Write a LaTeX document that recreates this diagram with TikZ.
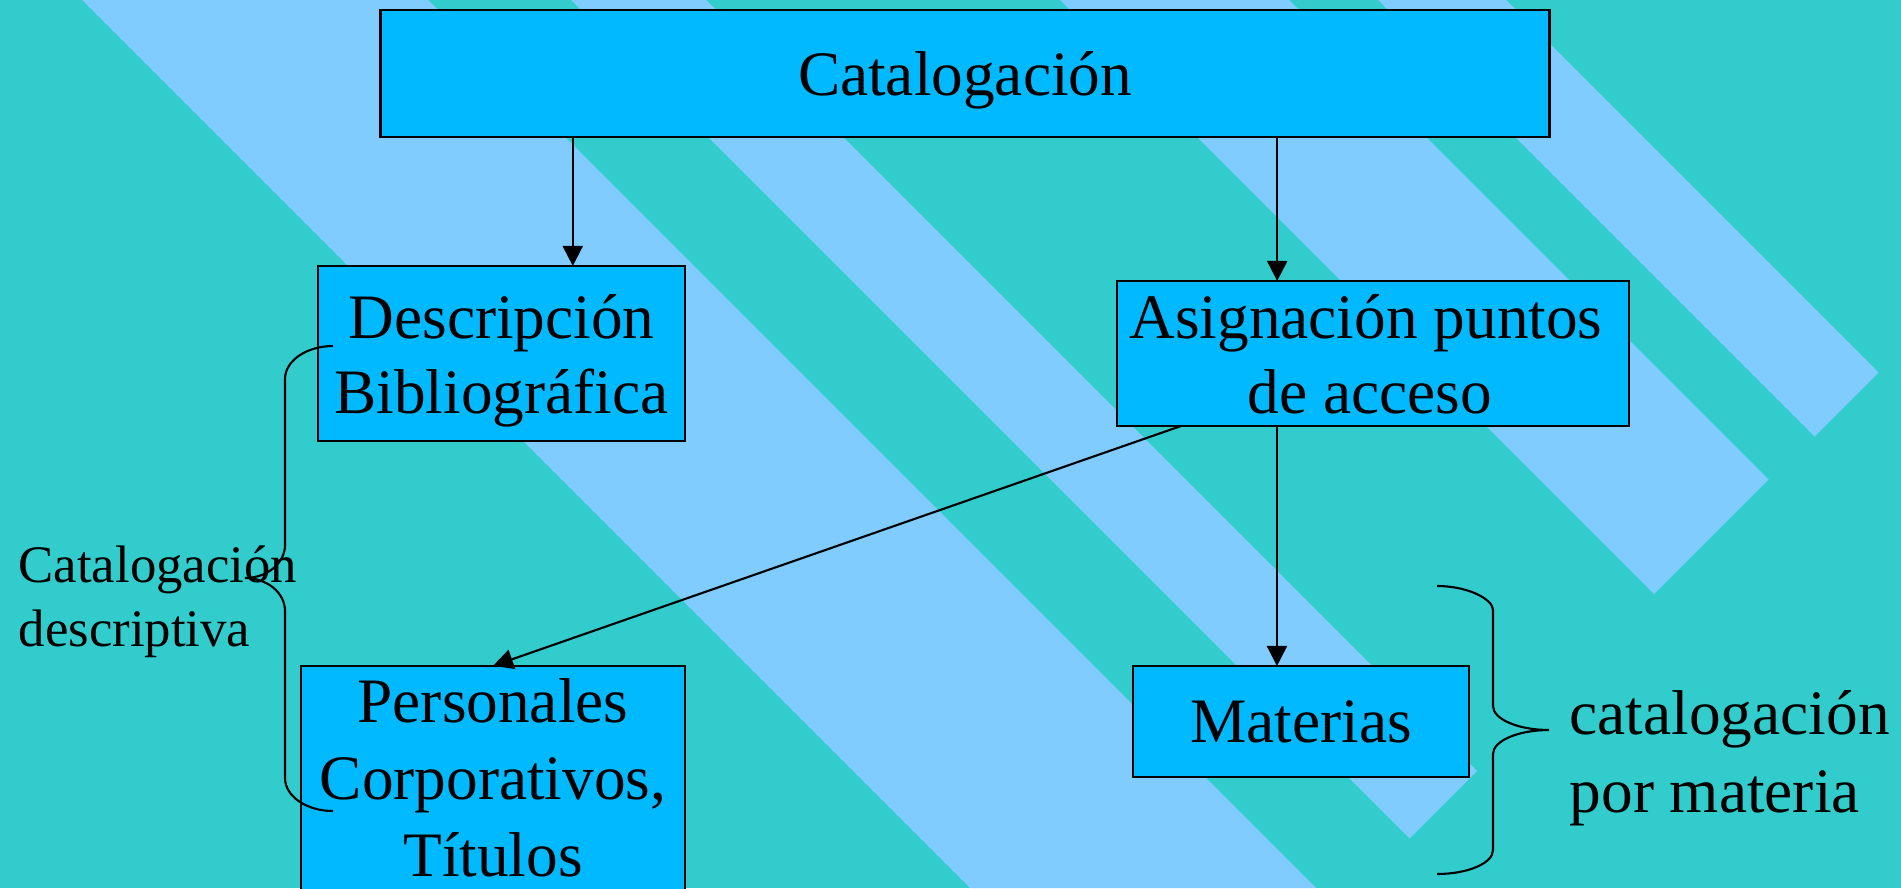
\documentclass[tikz,border=0pt]{standalone}
\usepackage{fontspec}
\setmainfont{Liberation Serif}
\usetikzlibrary{arrows.meta}
\definecolor{bgteal}{RGB}{51,204,204}
\definecolor{stripe}{RGB}{128,204,255}
\definecolor{boxfill}{RGB}{0,185,255}
\tikzset{
  boxst/.style={draw=black, line width=0.7pt, fill=boxfill, inner sep=0pt, outer sep=0pt, rectangle},
  bigtxt/.style={font=\fontsize{18}{21.8}\selectfont, inner sep=0pt, anchor=base},
  smalltxt/.style={font=\fontsize{15}{18}\selectfont, inner sep=0pt, anchor=base west},
  arr/.style={line width=0.6pt, -{Triangle[length=0.2cm,width=0.2cm]}},
  bracest/.style={line width=0.6pt}
}
\begin{document}
\begin{tikzpicture}[x=0.01cm,y=-0.01cm]
\useasboundingbox (0,0) rectangle (1901,888);
\clip (0,0) rectangle (1901,888);
% background
\fill[bgteal] (0,0) rectangle (1901,888);
% diagonal stripes
\fill[stripe] (82,0) -- (428,0) -- (1316,888) -- (970,888) -- cycle;
\fill[stripe] (571,0) -- (706,0) -- (1477,771) -- (1409.5,838.5) -- cycle;
\fill[stripe] (1060,0) -- (1289,0) -- (1768.5,479.5) -- (1654,594) -- cycle;
\fill[stripe] (1378,0) -- (1506,0) -- (1878.5,372.5) -- (1814.5,436.5) -- cycle;
% boxes
\node[boxst, minimum width=11.68cm, minimum height=1.27cm] (cat) at (965,73.5) {};
\node[boxst, minimum width=3.67cm, minimum height=1.75cm] (desc) at (501.5,353.5) {};
\node[boxst, minimum width=5.12cm, minimum height=1.45cm] (asig) at (1373,353.5) {};
\node[boxst, minimum width=3.84cm, minimum height=2.94cm] (pers) at (493,813) {};
\node[boxst, minimum width=3.36cm, minimum height=1.11cm] (mat) at (1301,721.5) {};
% box texts
\node[bigtxt] (catT) at (965,96) {Catalogación};
\node[bigtxt] (descT1) at (501.5,338) {Descripción};
\node[bigtxt] (descT2) at (501.5,413) {Bibliográfica};
\node[bigtxt] (asigT1) at (1366,338) {Asignación puntos};
\node[bigtxt] (asigT2) at (1370,413) {de acceso};
\node[bigtxt] (persT1) at (493,722) {Personales};
\node[bigtxt] (persT2) at (493,799) {Corporativos,};
\node[bigtxt] (persT3) at (493,876) {Títulos};
\node[bigtxt] (matT) at (1301,742) {Materias};
% side texts
\node[smalltxt] (lt1) at (18,582) {Catalogación};
\node[smalltxt] (lt2) at (18,646) {descriptiva};
\node[bigtxt, anchor=base west] (rt1) at (1569,734) {catalogación};
\node[bigtxt, anchor=base west] (rt2) at (1569,812) {por materia};
% arrows
\draw[arr] ([xshift=1.92cm]cat.south west) -- ([xshift=1.92cm]cat.south west |- desc.north);
\draw[arr] ([xshift=8.96cm]cat.south west) -- ([xshift=8.96cm]cat.south west |- asig.north);
\draw[arr] ([xshift=1.6cm]asig.south west) -- ([xshift=1.6cm]asig.south west |- mat.north);
\draw[arr] ([xshift=0.64cm]asig.south west) -- (pers.north);
% left brace
\draw[bracest] (333,346) .. controls (306.5,346) and (285,360.8) .. (285,379)
  -- (285,545) .. controls (285,563.2) and (267.1,578) .. (245,578)
  .. controls (267.1,578) and (285,592.8) .. (285,611)
  -- (285,778) .. controls (285,796.2) and (306.5,811) .. (333,811);
% right brace
\draw[bracest] (1437,586) .. controls (1467.9,586) and (1493,599.2) .. (1493,610)
  -- (1493,706) .. controls (1493,719.2) and (1518.1,730) .. (1549,730)
  .. controls (1518.1,730) and (1493,740.8) .. (1493,754)
  -- (1493,850) .. controls (1493,863.2) and (1467.9,874) .. (1437,874);
\end{tikzpicture}
\end{document}
